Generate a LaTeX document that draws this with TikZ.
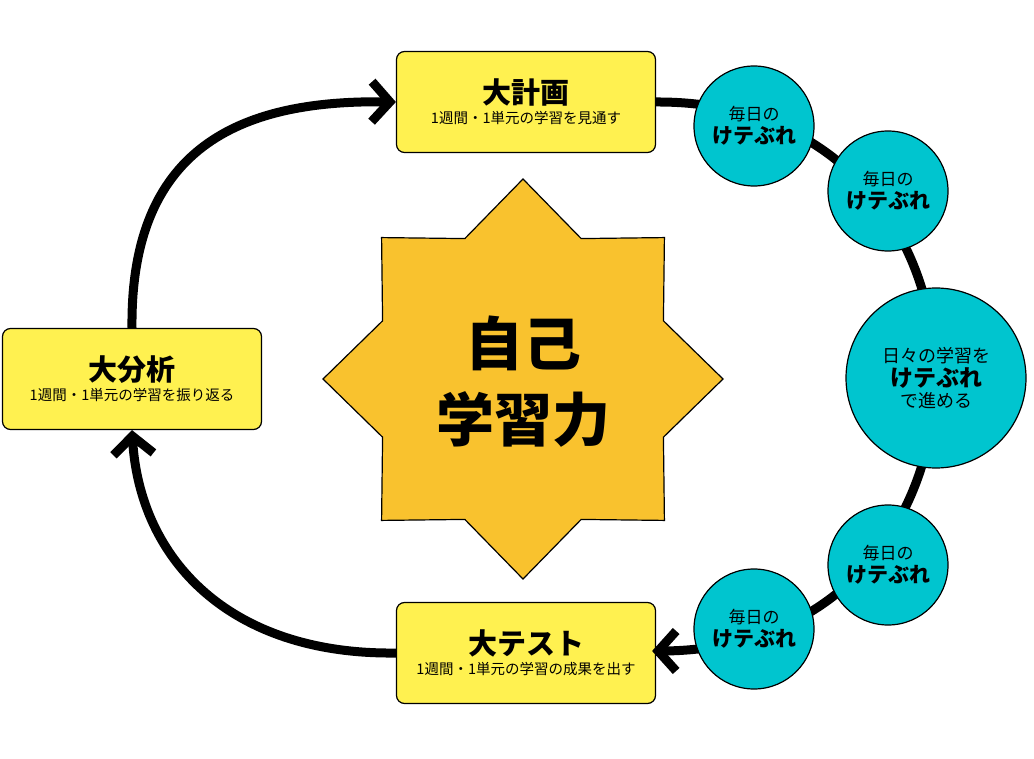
\documentclass[tikz,border=0pt]{standalone}
\usepackage{fontspec}
\setmainfont{Noto Sans CJK JP}
\usetikzlibrary{arrows.meta}
\definecolor{boxy}{HTML}{FFF150}
\definecolor{stary}{HTML}{F9C22E}
\definecolor{teal}{HTML}{00C5CF}
\tikzset{
 x=1pt,y=-1pt,
 bigbox/.style={draw=black,line width=1.2pt,fill=boxy,rounded corners=8pt,minimum width=259pt,minimum height=101pt,align=center,inner sep=0pt},
 kcirc/.style={circle,draw=black,line width=1.2pt,fill=teal,minimum size=120pt,align=center,inner sep=0pt},
 flow/.style={line width=9pt,-{Straight Barb[length=18pt,width=40pt,line width=9pt]}},
 plain/.style={line width=9pt},
}
\newcommand{\btitle}[1]{{\fontsize{29}{34}\selectfont\bfseries #1}}
\newcommand{\bsub}[1]{{\fontsize{14.5}{18}\selectfont #1}}
\newcommand{\ktxt}{{\fontsize{17}{21}\selectfont 毎日の}\\[3pt]{\fontsize{21}{25}\selectfont\bfseries けテぶれ}}
\begin{document}
\begin{tikzpicture}
\useasboundingbox (0,0) rectangle (1034,759);
\fill[white] (0,0) rectangle (1034,759);
\node[bigbox] (plan) at (526,102) {\btitle{大計画}\\[4pt]\bsub{1週間・1単元の学習を見通す}};
\node[bigbox] (ana) at (132,379) {\btitle{大分析}\\[4pt]\bsub{1週間・1単元の学習を振り返る}};
\node[bigbox] (test) at (526,653) {\btitle{大テスト}\\[4pt]\bsub{1週間・1単元の学習の成果を出す}};
% connectors
\draw[plain] (plan.east) .. controls (1028,100) and (1028,655) .. ([yshift=2pt]test.east);
\draw[flow] ([yshift=2pt]test.east) -- ([xshift=-4pt,yshift=2pt]test.east);
\draw[flow] (ana.north) .. controls (130,140) and (250,100) .. (plan.west);
\draw[flow] (test.west) .. controls (230,655) and (140,560) .. (ana.south);
% star
\fill[stary,draw=black,line width=1.2pt]
 plot[samples at={0,...,15}] ({523+ifthenelse(mod(\x,2)==0,200,152)*cos(90+22.5*\x)},{379-ifthenelse(mod(\x,2)==0,200,152)*sin(90+22.5*\x)}) -- cycle;
\node[align=center,font=\fontsize{58}{76}\selectfont\bfseries] (self) at (523,382) {自己\\学習力};
% circles
\node[kcirc] (k1) at (754,126) {\ktxt};
\node[kcirc] (k2) at (888,191) {\ktxt};
\node[kcirc,minimum size=180pt] (k3) at (936,378) {{\fontsize{18}{22}\selectfont 日々の学習を}\\[3pt]{\fontsize{23}{27}\selectfont\bfseries けテぶれ}\\[3pt]{\fontsize{18}{22}\selectfont で進める}};
\node[kcirc] (k4) at (888,565) {\ktxt};
\node[kcirc] (k5) at (754,629) {\ktxt};
\end{tikzpicture}
\end{document}
